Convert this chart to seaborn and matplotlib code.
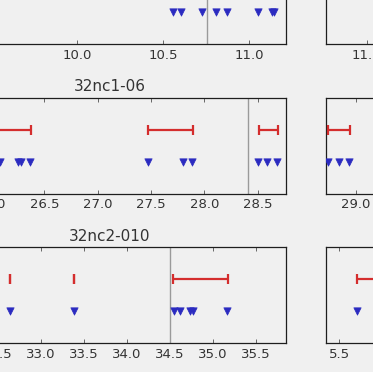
import matplotlib
matplotlib.use("Agg")
import matplotlib.pyplot as plt
from matplotlib.ticker import MultipleLocator, FormatStrFormatter
import seaborn as sns
import numpy as np

# ---------------- data ----------------
# row 1 (title off-screen)
r1_left_times = [10.561, 10.604, 10.726, 10.806, 10.874, 11.054, 11.133, 11.143]
r1_left_vline = 10.755
r1_left_xlim = (9.163, 11.215)
r1_right_xlim = (11.263, 11.962)

# row 2: 32nc1-06
r2_title = "32nc1-06"
r2_left_times = [26.085, 26.256, 26.279, 26.366, 27.475, 27.797, 27.881,
                 28.506, 28.583, 28.676]
r2_left_int_lo = [26.00, 27.468, 28.512]
r2_left_int_hi = [26.373, 27.890, 28.690]
r2_left_vline = 28.412
r2_left_xlim = (25.457, 28.765)
r2_right_times = [28.740, 28.837, 28.934]
r2_right_int_lo = [28.736]
r2_right_int_hi = [28.944]
r2_right_xlim = (28.719, 29.843)

# row 3: 32nc2-010
r3_title = "32nc2-010"
r3_left_times = [32.639, 33.380, 34.547, 34.616, 34.741, 34.771, 35.171]
r3_left_int_lo = [32.639, 33.380, 34.540]
r3_left_int_hi = [32.639, 33.380, 35.175]
r3_left_vline = 34.508
r3_left_xlim = (31.743, 35.853)
r3_right_times = [5.710]
r3_right_int_lo = [5.705]
r3_right_int_hi = [6.000]
r3_right_xlim = (5.345, 6.742)

# ---------------- style ----------------
BG = "#f0f0f0"
BLUE = "#2b2bc0"
RED = "#d42d2d"
GREY = "#9a9a9a"
TXT = "#333333"

sns.set_theme(style="white")
plt.rcParams.update({
    "figure.facecolor": BG,
    "axes.facecolor": BG,
    "axes.edgecolor": "#1e1e1e",
    "axes.linewidth": 0.9,
    "text.color": TXT,
    "xtick.color": "#666666",
    "xtick.labelcolor": TXT,
    "font.family": ["DejaVu Sans"],
})

W, H = 373, 372
fig = plt.figure(figsize=(W / 100, H / 100), dpi=100)


def px_axes(left, top, width, height):
    return fig.add_axes([left / W, (H - top - height) / H, width / W, height / H])


def panel(ax, times, lo, hi, vline, xlim, title=None):
    if vline is not None:
        ax.axvline(vline, color=GREY, lw=1.0, zorder=1)
    if lo:
        lo_a = np.array(lo)
        hi_a = np.array(hi)
        ax.errorbar((lo_a + hi_a) / 2, [2] * len(lo_a), xerr=(hi_a - lo_a) / 2,
                    fmt="none", ecolor=RED, elinewidth=1.6, capsize=3.6,
                    capthick=1.6, zorder=3)
    sns.scatterplot(x=times, y=[1] * len(times), marker="v", color=BLUE,
                    s=28, edgecolor=BLUE, linewidth=0.5, ax=ax, zorder=4,
                    legend=False)
    ax.set_xlim(*xlim)
    ax.set_ylim(0, 3)
    ax.set_yticks([])
    ax.set_ylabel("")
    ax.xaxis.set_major_locator(MultipleLocator(0.5))
    ax.xaxis.set_major_formatter(FormatStrFormatter("%.1f"))
    ax.tick_params(axis="x", direction="in", top=True, bottom=True,
                   length=3.2, width=0.7, labelsize=9.5, pad=3.3)
    for s in ax.spines.values():
        s.set_visible(True)
    if title:
        ax.set_title(title, fontsize=11, color=TXT, pad=4.5)


LEFT_X, LEFT_W = -67, 353
RIGHT_X, RIGHT_W = 326, 120
AX_H = 96
rows_bottom = [44, 193.5, 343.3]

# row 1
ax = px_axes(LEFT_X, rows_bottom[0] - AX_H, LEFT_W, AX_H)
panel(ax, r1_left_times, [], [], r1_left_vline, r1_left_xlim)
ax = px_axes(RIGHT_X, rows_bottom[0] - AX_H, RIGHT_W, AX_H)
panel(ax, [], [], [], None, r1_right_xlim)

# row 2
ax = px_axes(LEFT_X, rows_bottom[1] - AX_H, LEFT_W, AX_H)
panel(ax, r2_left_times, r2_left_int_lo, r2_left_int_hi, r2_left_vline,
      r2_left_xlim, r2_title)
ax = px_axes(RIGHT_X, rows_bottom[1] - AX_H, RIGHT_W, AX_H)
panel(ax, r2_right_times, r2_right_int_lo, r2_right_int_hi, None, r2_right_xlim)

# row 3
ax = px_axes(LEFT_X, rows_bottom[2] - AX_H, LEFT_W, AX_H)
panel(ax, r3_left_times, r3_left_int_lo, r3_left_int_hi, r3_left_vline,
      r3_left_xlim, r3_title)
ax = px_axes(RIGHT_X, rows_bottom[2] - AX_H, RIGHT_W, AX_H)
panel(ax, r3_right_times, r3_right_int_lo, r3_right_int_hi, None, r3_right_xlim)

fig.savefig("out.png", dpi=100, facecolor=BG)
